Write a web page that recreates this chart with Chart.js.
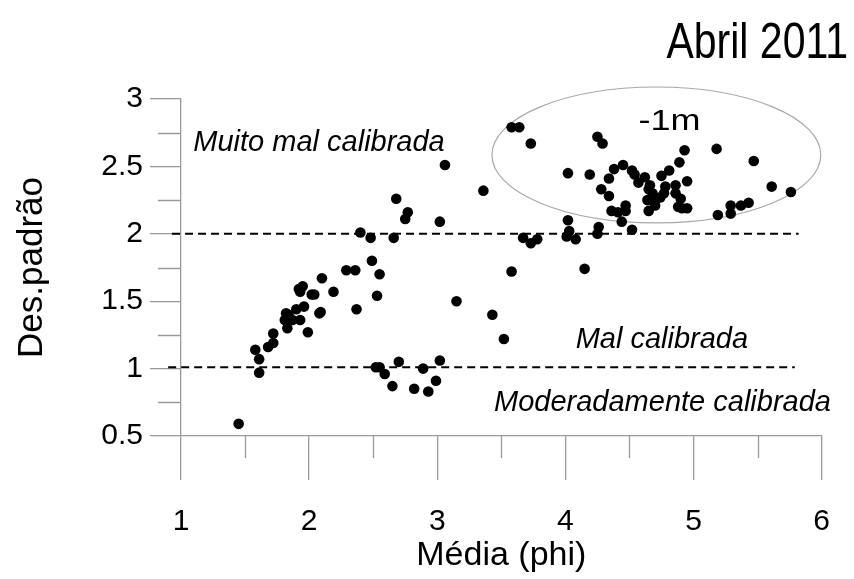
<!DOCTYPE html>
<html>
<head>
<meta charset="utf-8">
<script src="https://cdn.jsdelivr.net/npm/chart.js@4.4.0/dist/chart.umd.min.js"></script>
<style>
  html, body { margin: 0; padding: 0; background: #fff; }
  canvas { display: block; }
</style>
</head>
<body>
<canvas id="scatterChart" width="854" height="579"></canvas>
<script>
// Amostras: média (phi) e desvio padrão
const mediaPhi = [
    1.45, 1.58, 1.61, 1.61, 1.68, 1.72, 1.72, 1.83, 1.81, 1.84,
    1.87, 1.82, 1.90, 1.93, 1.96, 1.99, 1.92, 1.95, 1.93, 2.02,
    2.04, 2.08, 2.09, 2.10, 2.19, 2.29, 2.36, 2.37, 2.40, 2.48,
    2.49, 2.55, 2.53, 2.66, 2.68, 2.77, 2.75, 3.02, 3.06, 3.36,
    3.15, 3.43, 3.52, 3.58, 2.52, 2.55, 2.59, 2.70, 2.65, 2.82,
    2.89, 2.93, 2.99, 3.02, 3.58, 3.64, 3.73, 4.25, 4.29, 4.02,
    4.19, 4.38, 4.45, 4.34, 4.52, 4.54, 4.57, 4.62, 4.28, 4.34,
    4.66, 4.65, 4.68, 4.64, 4.70, 4.74, 4.77, 4.78, 4.75, 4.81,
    4.86, 4.86, 4.89, 4.93, 4.95, 4.90, 4.70, 4.65, 4.88, 4.91,
    4.95, 4.36, 4.41, 4.47, 4.47, 4.44, 4.52, 4.02, 4.03, 4.01,
    4.08, 4.26, 4.25, 3.67, 3.73, 3.78, 4.15, 5.18, 5.47, 5.61,
    5.76, 5.19, 5.29, 5.29, 5.37, 5.43
];
const desvioPadrao = [
    0.59, 1.14, 1.07, 0.97, 1.16, 1.19, 1.26, 1.30, 1.36, 1.40,
    1.36, 1.41, 1.44, 1.36, 1.46, 1.27, 1.59, 1.61, 1.57, 1.55,
    1.55, 1.41, 1.42, 1.67, 1.57, 1.73, 1.73, 1.44, 2.01, 1.97,
    1.80, 1.70, 1.54, 1.97, 2.26, 2.16, 2.11, 2.09, 2.51, 2.32,
    1.50, 1.40, 1.22, 1.72, 1.01, 1.01, 0.96, 1.05, 0.87, 0.85,
    1.00, 0.83, 0.91, 1.06, 2.79, 2.79, 2.67, 2.72, 2.67, 2.45,
    2.44, 2.48, 2.51, 2.41, 2.47, 2.44, 2.38, 2.42, 2.33, 2.28,
    2.36, 2.33, 2.30, 2.25, 2.25, 2.27, 2.30, 2.35, 2.43, 2.47,
    2.36, 2.30, 2.53, 2.62, 2.39, 2.26, 2.21, 2.17, 2.20, 2.19,
    2.19, 2.17, 2.16, 2.17, 2.21, 2.09, 2.03, 2.10, 2.02, 1.98,
    1.96, 2.05, 2.00, 1.97, 1.93, 1.96, 1.74, 2.63, 2.54, 2.35,
    2.31, 2.14, 2.21, 2.15, 2.21, 2.23
];

// Limites de classificação (linhas tracejadas)
const limiteY = [2.0, 1.01];
const limiteInicio = [0.93, 0.9];
const limiteFim = [5.82, 5.79];

const FONTE = "'Liberation Sans', Arial, sans-serif";
const CINZA = '#9a9a9a';

const pontos = mediaPhi.map((x, i) => ({ x: x, y: desvioPadrao[i] }));

const linhasLimite = limiteY.map((y, i) => ({
    type: 'line',
    data: [{ x: limiteInicio[i], y: y }, { x: limiteFim[i], y: y }],
    borderColor: '#000',
    borderWidth: 2,
    borderDash: [8, 5],
    pointRadius: 0,
    fill: false,
    clip: false,
}));

// Textos, elipse e marcas menores dos eixos
const anotacoes = {
    id: 'anotacoes',
    beforeDatasetsDraw(chart) {
        const { ctx, scales: { x, y } } = chart;
        ctx.save();
        const cx = x.getPixelForValue(4.71);
        const cy = y.getPixelForValue(2.585);
        const rx = x.getPixelForValue(4.71 + 1.283) - cx;
        const ry = cy - y.getPixelForValue(2.585 + 0.504);
        ctx.beginPath();
        ctx.ellipse(cx, cy, rx, ry, 0, 0, Math.PI * 2);
        ctx.strokeStyle = '#a8a8a8';
        ctx.lineWidth = 1.2;
        ctx.stroke();
        ctx.restore();
    },
    afterDraw(chart) {
        const { ctx, scales: { x, y } } = chart;
        ctx.save();

        // marcas menores
        ctx.strokeStyle = CINZA;
        ctx.lineWidth = 1.3;
        ctx.beginPath();
        for (let v = 1.5; v < 6; v += 1) {
            const px = Math.round(x.getPixelForValue(v)) + 0.5;
            ctx.moveTo(px, x.top);
            ctx.lineTo(px, x.top + 22);
        }
        for (let v = 0.75; v < 3; v += 0.5) {
            const py = Math.round(y.getPixelForValue(v)) + 0.5;
            ctx.moveTo(y.right, py);
            ctx.lineTo(y.right - 23, py);
        }
        ctx.stroke();

        ctx.fillStyle = '#000';
        ctx.textBaseline = 'middle';
        ctx.textAlign = 'left';
        ctx.font = 'italic 29px ' + FONTE;
        ctx.fillText('Muito mal calibrada', x.getPixelForValue(1.096), y.getPixelForValue(2.674));
        ctx.fillText('Mal calibrada', x.getPixelForValue(4.08), y.getPixelForValue(1.212));
        ctx.fillText('Moderadamente calibrada', x.getPixelForValue(3.443), y.getPixelForValue(0.745));

        // rótulo da elipse
        ctx.save();
        ctx.translate(x.getPixelForValue(4.571), y.getPixelForValue(2.83));
        ctx.scale(1.2, 1);
        ctx.font = '30px ' + FONTE;
        ctx.fillText('-1m', 0, 0);
        ctx.restore();

        // título
        ctx.save();
        ctx.translate(848, 58);
        ctx.scale(0.82, 1);
        ctx.textAlign = 'right';
        ctx.textBaseline = 'alphabetic';
        ctx.font = '50px ' + FONTE;
        ctx.fillText('Abril 2011', 0, 0);
        ctx.restore();

        ctx.restore();
    }
};

const ctx = document.getElementById('scatterChart').getContext('2d');
const chart = new Chart(ctx, {
    type: 'scatter',
    data: {
        datasets: [{
            label: 'Amostras',
            data: pontos,
            backgroundColor: '#000',
            borderWidth: 0,
            pointRadius: 5.3,
            pointHoverRadius: 5.3,
        }, ...linhasLimite],
    },
    options: {
        responsive: false,
        animation: false,
        layout: { padding: { top: 99, right: 30, left: 0, bottom: 0 } },
        plugins: {
            legend: { display: false },
            tooltip: { enabled: false },
        },
        scales: {
            x: {
                type: 'linear',
                min: 1,
                max: 6,
                ticks: { stepSize: 1, color: '#000', padding: 24, font: { family: FONTE, size: 30 } },
                grid: { drawOnChartArea: false, drawTicks: true, tickLength: 44, color: CINZA, lineWidth: 1.3 },
                border: { color: CINZA, width: 1.3 },
                title: {
                    display: true,
                    text: 'Média (phi)',
                    color: '#000',
                    font: { family: FONTE, size: 34 },
                    padding: { top: 0, bottom: 3 },
                },
                afterFit(scale) { scale.height = 143; },
            },
            y: {
                type: 'linear',
                min: 0.5,
                max: 3,
                ticks: {
                    stepSize: 0.5,
                    color: '#000',
                    padding: 7,
                    font: { family: FONTE, size: 30 },
                    callback: (v) => String(v),
                },
                grid: { drawOnChartArea: false, drawTicks: true, tickLength: 31, color: CINZA, lineWidth: 1.3 },
                border: { color: CINZA, width: 1.3 },
                title: {
                    display: true,
                    text: 'Des.padrão',
                    color: '#000',
                    font: { family: FONTE, size: 35 },
                    padding: { top: 11, bottom: 0 },
                },
                afterFit(scale) { scale.width = 181; },
            },
        },
    },
    plugins: [anotacoes],
});
</script>
</body>
</html>
